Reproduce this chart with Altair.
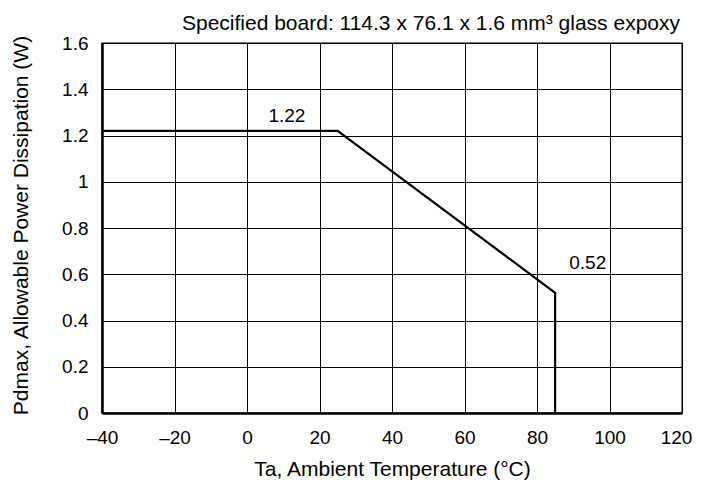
import altair as alt
import pandas as pd

# curve data
curve_x = [-40, 25, 85, 85]
curve_y = [1.22, 1.22, 0.52, 0.0]

label_text = ["1.22", "0.52"]
label_x = [11, 94]
label_y = [1.258, 0.623]

x_ticks = [-40, -20, 0, 20, 40, 60, 80, 100, 120]
y_ticks = [0, 0.2, 0.4, 0.6, 0.8, 1, 1.2, 1.4, 1.6]

title_text = "Specified board: 114.3 x 76.1 x 1.6 mm³ glass expoxy"
x_title = "Ta, Ambient Temperature (°C)"
y_title = "Pdmax, Allowable Power Dissipation (W)"

FONT = "Liberation Sans"
FS = 19
TFS = 21

curve = pd.DataFrame({"x": curve_x, "y": curve_y, "o": list(range(len(curve_x)))})
labels = pd.DataFrame({"x": label_x, "y": label_y, "t": label_text})

xs = alt.Scale(domain=[-40, 120], nice=False, zero=False)
ys = alt.Scale(domain=[0, 1.6], nice=False, zero=False)

xaxis = alt.Axis(values=x_ticks, title=x_title, grid=True, gridColor="black", gridWidth=1,
                 gridOpacity=1, ticks=False, domainColor="black", domainWidth=2.5,
                 labelFont=FONT, labelFontSize=FS, labelColor="black", labelPadding=15,
                 labelOffset={"condition": {"test": "datum.value === 120", "value": -6}, "value": 0},
                 titleFont=FONT, titleFontSize=TFS, titleFontWeight="normal", titleColor="black",
                 titleX=290, titleY=62, titleBaseline="alphabetic", titleAlign="center",
                 labelFlush=False, labelExpr="replace(datum.label, '−', '–')")
yaxis = alt.Axis(values=y_ticks, title=y_title, grid=True, gridColor="black", gridWidth=1,
                 gridOpacity=1, ticks=False, domainColor="black", domainWidth=2.5,
                 labelFont=FONT, labelFontSize=FS, labelColor="black", labelPadding=14,
                 titleFont=FONT, titleFontSize=TFS, titleFontWeight="normal", titleColor="black",
                 titleAngle=-90, titleX=-81, titleY=182, titleBaseline="middle", titleAlign="center",
                 labelFlush=False, format="~g")

line = alt.Chart(curve).mark_line(color="black", strokeWidth=2.2).encode(
    x=alt.X("x:Q", scale=xs, axis=xaxis),
    y=alt.Y("y:Q", scale=ys, axis=yaxis),
    order="o:Q",
)

txt = alt.Chart(labels).mark_text(font=FONT, fontSize=FS, color="black",
                                  baseline="alphabetic").encode(
    x=alt.X("x:Q", scale=xs),
    y=alt.Y("y:Q", scale=ys),
    text="t:N",
)

title = alt.Chart(pd.DataFrame({"t": [title_text]})).mark_text(
    font=FONT, fontSize=TFS, color="black", align="right", baseline="alphabetic"
).encode(x=alt.value(578), y=alt.value(-13), text="t:N")

chart = alt.layer(line, txt, title).properties(
    width=580, height=370,
    autosize=alt.AutoSizeParams(type="none"),
    padding={"left": 94, "top": 35, "right": 11, "bottom": 68},
).configure_view(stroke="#555", strokeWidth=1.5)

chart.save("out.html", embed_options={"renderer": "svg", "actions": False})
